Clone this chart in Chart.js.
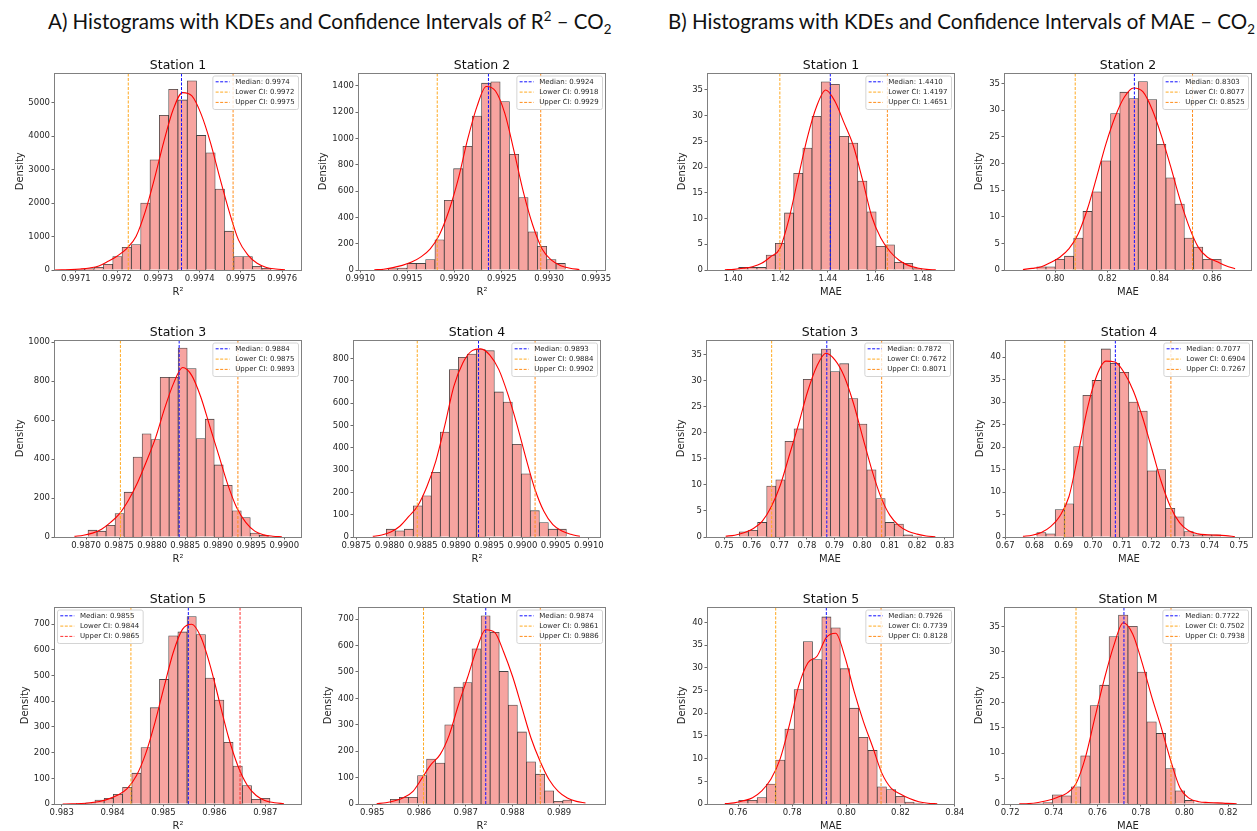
<!DOCTYPE html>
<html>
<head>
<meta charset="utf-8">
<script src="https://cdn.jsdelivr.net/npm/chart.js@4.4.1/dist/chart.umd.min.js"></script>
<style>
  body { margin: 0; width: 1257px; height: 831px; background: #fff; position: relative; overflow: hidden; }
  .panel { position: absolute; }
  .big { position: absolute; top: 9px; font-family: Lato, "Liberation Sans", sans-serif; font-size: 20.5px; color: #111; white-space: nowrap; }
  .big sup, .big sub { font-size: 0.65em; line-height: 0; }
  #titleA { left: 48px; }
  #titleB { left: 668px; }
</style>
</head>
<body>
<div class="big" id="titleA">A) Histograms with KDEs and Confidence Intervals of R<sup>2</sup> – CO<sub>2</sub></div>
<div class="big" id="titleB">B) Histograms with KDEs and Confidence Intervals of MAE – CO<sub>2</sub></div>
<script>
// bins: [first bin edge, bin width]
// kde: curve height at bin centres, starting 2 bins before the first bin and ending 2 bins after the last
// stats: median, lower CI, upper CI as printed in the legend
// lines: where the dashed lines are drawn (R² panels, the printed values are rounded too much)

// ---------- A) R² ----------
const a1Bins = [0.9970765, 0.00002257];
const a1Hist = [5, 20, 40, 80, 170, 400, 680, 760, 2000, 3290, 4620, 5400, 5080, 5650, 4020, 3500, 2420, 1160, 400, 400, 110, 50];
const a1Kde = [0, 3, 12, 30, 60, 120, 260, 420, 640, 1000, 1750, 2750, 3850, 4800, 5300, 5200, 4650, 3800, 2750, 1750, 900, 450, 200, 75, 30, 8];
const a1XTicks = ['0.9971', '0.9972', '0.9973', '0.9974', '0.9975', '0.9976'];
const a1YTicks = [0, 1000, 2000, 3000, 4000, 5000];
const a1Stats = [0.9974, 0.9972, 0.9975];
const a1Lines = [0.997356, 0.997227, 0.997481];

const a2Bins = [0.9912964, 0.0000988];
const a2Hist = [10, 15, 50, 50, 80, 230, 530, 770, 940, 1170, 1420, 1430, 1280, 880, 550, 290, 180, 80, 50];
const a2Kde = [2, 6, 18, 35, 60, 100, 160, 270, 450, 690, 990, 1240, 1395, 1360, 1190, 900, 590, 340, 160, 75, 33, 13, 4];
const a2XTicks = ['0.9910', '0.9915', '0.9920', '0.9925', '0.9930', '0.9935'];
const a2YTicks = [0, 200, 400, 600, 800, 1000, 1200, 1400];
const a2Stats = [0.9924, 0.9918, 0.9929];
const a2Lines = [0.992358, 0.991815, 0.992912];

const a3Bins = [0.98703, 0.0001364];
const a3Hist = [35, 30, 60, 120, 230, 410, 530, 500, 820, 820, 970, 865, 505, 605, 370, 265, 135, 100, 20, 8];
const a3Kde = [3, 9, 20, 40, 75, 120, 190, 280, 390, 510, 660, 790, 870, 830, 720, 570, 420, 270, 150, 75, 30, 11, 4, 1];
const a3XTicks = ['0.9870', '0.9875', '0.9880', '0.9885', '0.9890', '0.9895', '0.9900'];
const a3YTicks = [0, 200, 400, 600, 800, 1000];
const a3Stats = [0.9884, 0.9875, 0.9893];
const a3Lines = [0.988409, 0.98752, 0.989298];

const a4Bins = [0.987951, 0.0001355];
const a4Hist = [35, 28, 35, 140, 185, 290, 470, 750, 805, 820, 840, 835, 650, 605, 415, 283, 118, 65, 35, 35];
const a4Kde = [3, 9, 22, 48, 92, 140, 225, 340, 500, 675, 780, 834, 843, 815, 750, 640, 505, 355, 215, 115, 55, 27, 12, 3];
const a4XTicks = ['0.9875', '0.9880', '0.9885', '0.9890', '0.9895', '0.9900', '0.9905', '0.9910'];
const a4YTicks = [0, 100, 200, 300, 400, 500, 600, 700, 800];
const a4Stats = [0.9893, 0.9884, 0.9902];
const a4Lines = [0.989339, 0.988417, 0.990190];

const a5Bins = [0.983291, 0.000181];
const a5Hist = [3, 5, 15, 22, 38, 65, 120, 220, 375, 485, 655, 670, 730, 660, 490, 405, 240, 148, 72, 18, 22];
const a5Kde = [0, 0.5, 2, 5, 10, 20, 35, 60, 110, 195, 315, 455, 590, 680, 700, 650, 540, 400, 260, 150, 75, 33, 13, 5, 1.5];
const a5XTicks = ['0.983', '0.984', '0.985', '0.986', '0.987'];
const a5YTicks = [0, 100, 200, 300, 400, 500, 600, 700];
const a5Stats = [0.9855, 0.9844, 0.9865];
const a5Lines = [0.985488, 0.98436, 0.986504];

const a6Bins = [0.985385, 0.0001944];
const a6Hist = [18, 25, 25, 108, 170, 155, 300, 443, 460, 588, 713, 650, 502, 375, 273, 160, 113, 50, 10, 15];
const a6Kde = [1, 5, 12, 25, 48, 98, 150, 188, 262, 375, 478, 585, 660, 650, 575, 480, 365, 250, 162, 92, 48, 23, 10, 4];
const a6XTicks = ['0.985', '0.986', '0.987', '0.988', '0.989'];
const a6YTicks = [0, 100, 200, 300, 400, 500, 600, 700];
const a6Stats = [0.9874, 0.9861, 0.9886];
const a6Lines = [0.987429, 0.986097, 0.988597];

// ---------- B) MAE ----------
const b1Bins = [1.402291, 0.003872];
const b1Hist = [0.5, 0.5, 0.5, 2.9, 5.2, 11.1, 18.8, 23.7, 29.9, 36.6, 36.1, 26.0, 24.7, 17.3, 11.3, 4.6, 4.9, 1.5, 1.3, 0.3];
const b1Kde = [0.05, 0.13, 0.33, 0.65, 1.3, 2.6, 4.2, 10, 18, 25.8, 31.8, 35, 32.8, 28.6, 24.2, 17.6, 10.5, 6.2, 3.6, 1.9, 0.9, 0.4, 0.13, 0.03];
const b1XTicks = ['1.40', '1.42', '1.44', '1.46', '1.48'];
const b1YTicks = [0, 5, 10, 15, 20, 25, 30, 35];
const b1Stats = [1.4410, 1.4197, 1.4651];

const b2Bins = [0.793018, 0.003523];
const b2Hist = [0.6, 0.6, 2.0, 2.6, 6.0, 11.0, 14.7, 20.5, 29.4, 33.4, 32.2, 35.4, 32.0, 23.6, 17.3, 12.4, 6.0, 4.3, 2.0, 2.0];
const b2Kde = [0.1, 0.3, 0.6, 1.4, 2.4, 4.0, 6.8, 11.5, 17.5, 23.7, 28.8, 32.5, 34.2, 33.5, 30.2, 25.3, 19.5, 13.4, 8.2, 4.3, 2.4, 1.6, 0.8, 0.25];
const b2XTicks = ['0.80', '0.82', '0.84', '0.86'];
const b2YTicks = [0, 5, 10, 15, 20, 25, 30, 35];
const b2Stats = [0.8303, 0.8077, 0.8525];

const b3Bins = [0.755477, 0.003307];
const b3Hist = [1.0, 1.3, 2.8, 9.8, 11.0, 18.4, 20.8, 30.3, 35.2, 36.1, 31.8, 33.3, 26.6, 21.7, 12.9, 7.4, 2.8, 2.5, 0.4, 0.2];
const b3Kde = [0.15, 0.35, 0.8, 1.6, 3.0, 5.8, 10.0, 15.8, 21.7, 28.0, 32.8, 35.3, 34.0, 30.9, 25.8, 19.4, 13.1, 7.8, 4.2, 2.2, 1.1, 0.55, 0.2, 0.05];
const b3XTicks = ['0.75', '0.76', '0.77', '0.78', '0.79', '0.80', '0.81', '0.82', '0.83'];
const b3YTicks = [0, 5, 10, 15, 20, 25, 30, 35];
const b3Stats = [0.7872, 0.7672, 0.8071];

const b4Bins = [0.680811, 0.003151];
const b4Hist = [1.0, 0.7, 6.1, 7.4, 20.1, 31.5, 34.8, 41.8, 38.6, 36.6, 30.0, 28.0, 14.7, 15.0, 6.4, 4.5, 1.2, 0.5, 0.5, 0.5];
const b4Kde = [0.15, 0.4, 1.0, 2.3, 4.6, 9.0, 18.5, 28.6, 35.8, 39.1, 38.9, 36.5, 32.4, 26.5, 19.5, 12.4, 6.8, 3.2, 1.4, 0.7, 0.5, 0.42, 0.3, 0.12];
const b4XTicks = ['0.67', '0.68', '0.69', '0.70', '0.71', '0.72', '0.73', '0.74', '0.75'];
const b4YTicks = [0, 5, 10, 15, 20, 25, 30, 35, 40];
const b4Stats = [0.7077, 0.6904, 0.7267];

const b5Bins = [0.760234, 0.00341];
const b5Hist = [0.8, 0.8, 1.4, 4.4, 9.7, 16.5, 25.2, 35.8, 31.8, 41.2, 38.8, 29.8, 21.1, 14.7, 11.8, 3.8, 3.2, 1.7, 0.4, 0.2];
const b5Kde = [0.08, 0.25, 0.7, 1.4, 2.9, 5.5, 10, 17.5, 26, 31.1, 32.6, 36.7, 37.6, 32.4, 24.8, 18.2, 12.6, 6.8, 3.5, 2.2, 1.2, 0.5, 0.18, 0.05];
const b5XTicks = ['0.76', '0.78', '0.80', '0.82', '0.84'];
const b5YTicks = [0, 5, 10, 15, 20, 25, 30, 35, 40];
const b5Stats = [0.7926, 0.7739, 0.8128];

const b6Bins = [0.730662, 0.004338];
const b6Hist = [0.1, 0.3, 1.8, 1.6, 3.4, 9.5, 19.4, 23.4, 33.0, 37.2, 35.0, 26.0, 16.2, 13.9, 7.0, 2.6, 0.7, 0.1, 0.2, 0.2];
const b6Kde = [0.03, 0.08, 0.3, 0.7, 1.3, 2.1, 4.0, 9.2, 17.0, 24.6, 31.2, 35.7, 33.5, 27.8, 21.2, 15.2, 8.7, 3.2, 1.1, 0.45, 0.3, 0.23, 0.12, 0.04];
const b6XTicks = ['0.72', '0.74', '0.76', '0.78', '0.80', '0.82'];
const b6YTicks = [0, 5, 10, 15, 20, 25, 30, 35];
const b6Stats = [0.7722, 0.7502, 0.7938];

// layout of the 12 axes (left/top of the plot box in page pixels)
const panels = [
  { title: 'Station 1', xLabel: 'R²', left: 54, top: 73, yW: 40, xMin: 0.997047, xMax: 0.997648, yMax: 5900, bins: a1Bins, hist: a1Hist, kde: a1Kde, xTicks: a1XTicks, yTicks: a1YTicks, stats: a1Stats, lines: a1Lines },
  { title: 'Station 2', xLabel: 'R²', left: 358, top: 73, yW: 41, xMin: 0.990975, xMax: 0.993604, yMax: 1501, bins: a2Bins, hist: a2Hist, kde: a2Kde, xTicks: a2XTicks, yTicks: a2YTicks, stats: a2Stats, lines: a2Lines },
  { title: 'Station 3', xLabel: 'R²', left: 54, top: 340, yW: 40, xMin: 0.986515, xMax: 0.990268, yMax: 1014, bins: a3Bins, hist: a3Hist, kde: a3Kde, xTicks: a3XTicks, yTicks: a3YTicks, stats: a3Stats, lines: a3Lines },
  { title: 'Station 4', xLabel: 'R²', left: 353, top: 340, yW: 30, noYTitle: true, xMin: 0.98745, xMax: 0.991182, yMax: 885, bins: a4Bins, hist: a4Hist, kde: a4Kde, xTicks: a4XTicks, yTicks: a4YTicks, stats: a4Stats, lines: a4Lines },
  { title: 'Station 5', xLabel: 'R²', left: 54, top: 607, yW: 35, xMin: 0.982849, xMax: 0.987721, yMax: 769, bins: a5Bins, hist: a5Hist, kde: a5Kde, xTicks: a5XTicks, yTicks: a5YTicks, stats: a5Stats, lines: a5Lines, legendLeft: true, upperColor: '#ff3030' },
  { title: 'Station M', xLabel: 'R²', left: 358, top: 607, yW: 36, xMin: 0.984694, xMax: 0.990004, yMax: 748, bins: a6Bins, hist: a6Hist, kde: a6Kde, xTicks: a6XTicks, yTicks: a6YTicks, stats: a6Stats, lines: a6Lines },
  { title: 'Station 1', xLabel: 'MAE', left: 707, top: 73, yW: 31, xMin: 1.38894, xMax: 1.49365, yMax: 38.4, bins: b1Bins, hist: b1Hist, kde: b1Kde, xTicks: b1XTicks, yTicks: b1YTicks, stats: b1Stats },
  { title: 'Station 2', xLabel: 'MAE', left: 1004, top: 73, yW: 31, xMin: 0.78051, xMax: 0.87521, yMax: 37.1, bins: b2Bins, hist: b2Hist, kde: b2Kde, xTicks: b2XTicks, yTicks: b2YTicks, stats: b2Stats },
  { title: 'Station 3', xLabel: 'MAE', left: 706, top: 340, yW: 31, xMin: 0.743387, xMax: 0.833339, yMax: 37.95, bins: b3Bins, hist: b3Hist, kde: b3Kde, xTicks: b3XTicks, yTicks: b3YTicks, stats: b3Stats },
  { title: 'Station 4', xLabel: 'MAE', left: 1005, top: 340, yW: 31, xMin: 0.66995, xMax: 0.754783, yMax: 43.9, bins: b4Bins, hist: b4Hist, kde: b4Kde, xTicks: b4XTicks, yTicks: b4YTicks, stats: b4Stats },
  { title: 'Station 5', xLabel: 'MAE', left: 707, top: 607, yW: 31, xMin: 0.748539, xMax: 0.8401, yMax: 43.5, bins: b5Bins, hist: b5Hist, kde: b5Kde, xTicks: b5XTicks, yTicks: b5YTicks, stats: b5Stats },
  { title: 'Station M', xLabel: 'MAE', left: 1004, top: 607, yW: 31, xMin: 0.717155, xMax: 0.830969, yMax: 38.9, bins: b6Bins, hist: b6Hist, kde: b6Kde, xTicks: b6XTicks, yTicks: b6YTicks, stats: b6Stats }
];

const FONT = 'DejaVu Sans';
const INK = '#262626';
const BOX_W = 248, BOX_H = 197;
const PAD_TOP = 4, TITLE_H = 14, X_AXIS_H = 28, PAD_RIGHT = 14;

// grey box round the plot area, like matplotlib spines
const framePlugin = {
  id: 'frame',
  afterDatasetsDraw(chart) {
    const { ctx, chartArea: a } = chart;
    ctx.save();
    ctx.strokeStyle = '#808080';
    ctx.lineWidth = 1;
    ctx.strokeRect(Math.round(a.left) + 0.5, Math.round(a.top) + 0.5, Math.round(a.right - a.left) - 1, Math.round(a.bottom - a.top) - 1);
    ctx.restore();
  }
};

// small boxed legend drawn inside the plot area
function legendPlugin(p) {
  return {
    id: 'ciLegend',
    afterDraw(chart) {
      const ctx = chart.ctx, a = chart.chartArea;
      const items = chart.data.datasets.filter(d => d.label);
      const fs = 7;
      ctx.save();
      ctx.font = fs + 'px "' + FONT + '"';
      let tw = 0;
      items.forEach(d => { tw = Math.max(tw, ctx.measureText(d.label).width); });
      const pad = 0.4 * fs, handle = 2 * fs, gap = 0.8 * fs, rowH = 10.3;
      const w = pad * 2 + handle + gap + tw + 1;
      const h = 33.5;
      const x0 = p.legendLeft ? a.left + 3.5 : a.right - 3.5 - w;
      const y0 = a.top + 3.5;
      ctx.beginPath();
      ctx.roundRect(x0, y0, w, h, 2);
      ctx.fillStyle = 'rgba(255,255,255,0.8)';
      ctx.fill();
      ctx.strokeStyle = '#d4d4d4';
      ctx.lineWidth = 1;
      ctx.stroke();
      items.forEach((d, i) => {
        const y = y0 + 5.8 + i * rowH;
        ctx.beginPath();
        ctx.setLineDash(d.borderDash);
        ctx.strokeStyle = d.borderColor;
        ctx.lineWidth = d.borderWidth;
        ctx.moveTo(x0 + pad, y);
        ctx.lineTo(x0 + pad + handle, y);
        ctx.stroke();
        ctx.setLineDash([]);
        ctx.fillStyle = INK;
        ctx.textBaseline = 'middle';
        ctx.textAlign = 'left';
        ctx.fillText(d.label, x0 + pad + handle + gap, y);
      });
      ctx.restore();
    }
  };
}

function vline(label, x, yMax, color) {
  return {
    type: 'line', label: label,
    data: [{ x: x, y: 0 }, { x: x, y: yMax }],
    borderColor: color, borderWidth: 1, borderDash: [3, 1.5],
    pointRadius: 0, order: 1
  };
}

function makePanel(p) {
  const cw = p.yW + BOX_W + PAD_RIGHT;
  const ch = PAD_TOP + TITLE_H + BOX_H + X_AXIS_H;
  const box = document.createElement('div');
  box.className = 'panel';
  box.style.left = (p.left - p.yW) + 'px';
  box.style.top = (p.top - PAD_TOP - TITLE_H) + 'px';
  const cv = document.createElement('canvas');
  cv.width = cw;
  cv.height = ch;
  box.appendChild(cv);
  document.body.appendChild(box);

  const start = p.bins[0], step = p.bins[1];
  const histData = p.hist.map((h, i) => ({ x: start + (i + 0.5) * step, y: h }));
  const kdeData = p.kde.map((v, i) => ({ x: start + (i - 1.5) * step, y: v }));
  const lines = p.lines || p.stats;
  const fmt = v => v.toFixed(4);

  new Chart(cv, {
    type: 'bar',
    data: {
      datasets: [
        { type: 'bar', data: histData, backgroundColor: '#f7a4a0', borderColor: 'rgba(35,35,35,0.85)', borderWidth: 0.8,
          barPercentage: 1, categoryPercentage: 1, order: 3 },
        { type: 'line', data: kdeData, borderColor: '#ff0000', borderWidth: 1.1, pointRadius: 0,
          cubicInterpolationMode: 'monotone', order: 2 },
        vline('Median: ' + fmt(p.stats[0]), lines[0], p.yMax, '#1010ff'),
        vline('Lower CI: ' + fmt(p.stats[1]), lines[1], p.yMax, '#ffaa22'),
        vline('Upper CI: ' + fmt(p.stats[2]), lines[2], p.yMax, p.upperColor || '#ff8c1a')
      ]
    },
    options: {
      responsive: false,
      animation: false,
      events: [],
      layout: { padding: { top: PAD_TOP, right: PAD_RIGHT, left: 0, bottom: 0 } },
      plugins: {
        legend: { display: false },
        tooltip: { enabled: false },
        title: {
          display: true, text: p.title, fullSize: false, color: '#111',
          font: { family: FONT, size: 12.5, weight: 'normal', lineHeight: 1 },
          padding: { top: 0, bottom: 1 }
        }
      },
      scales: {
        x: {
          type: 'linear', min: p.xMin, max: p.xMax, offset: false,
          afterBuildTicks: s => { s.ticks = p.xTicks.map(t => ({ value: parseFloat(t) })); },
          afterFit: s => { s.height = X_AXIS_H; s.paddingLeft = 0; s.paddingRight = 0; },
          ticks: { autoSkip: false, maxRotation: 0, minRotation: 0, padding: 1, color: INK,
                   font: { family: FONT, size: 8.5 }, callback: (v, i) => p.xTicks[i] },
          grid: { display: true, offset: false, drawOnChartArea: false, drawTicks: true, tickLength: 2.5, color: '#444', lineWidth: 0.8 },
          border: { display: false },
          title: { display: true, text: p.xLabel, color: INK, font: { family: FONT, size: 10 }, padding: 0 }
        },
        y: {
          min: 0, max: p.yMax,
          afterBuildTicks: s => { s.ticks = p.yTicks.map(v => ({ value: v })); },
          afterFit: s => { s.width = p.yW; s.paddingTop = 0; s.paddingBottom = 0; },
          ticks: { padding: 1.5, color: INK, font: { family: FONT, size: 8.5 }, callback: v => String(v) },
          grid: { display: true, drawOnChartArea: false, drawTicks: true, tickLength: 2.5, color: '#444', lineWidth: 0.8 },
          border: { display: false },
          title: { display: !p.noYTitle, text: 'Density', color: INK, font: { family: FONT, size: 10 }, padding: 0 }
        }
      }
    },
    plugins: [framePlugin, legendPlugin(p)]
  });
}

panels.forEach(makePanel);
</script>
</body>
</html>
